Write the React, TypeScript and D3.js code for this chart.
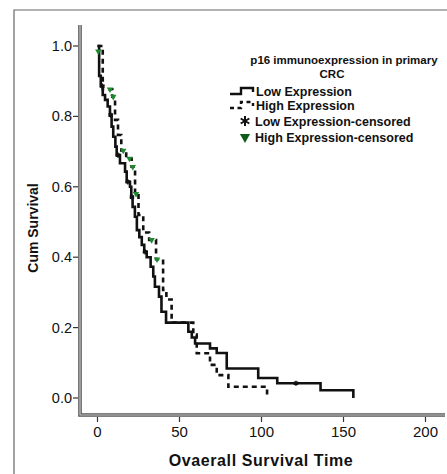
import React, { useEffect, useRef } from 'react'
import * as d3 from 'd3'

// Kaplan-Meier steps (time in months, cum survival)
const lowTimes = [0, 1, 2, 3.2, 4.6, 6.2, 7.6, 8.6, 9.6, 10.9, 11.7, 13.7, 16.8, 17.8, 19.8, 20.6, 21.4, 22.8, 24, 25.5, 27, 28.5, 30, 32.4, 34, 35, 37.5, 39, 41.8, 55.4, 57.5, 59.5, 68.6, 72.7, 78.8, 98, 109.6, 136, 156]
const lowSurv = [1.0, 0.915, 0.886, 0.861, 0.847, 0.828, 0.804, 0.771, 0.742, 0.714, 0.69, 0.667, 0.643, 0.614, 0.6, 0.571, 0.543, 0.515, 0.477, 0.457, 0.435, 0.415, 0.4, 0.373, 0.345, 0.316, 0.288, 0.245, 0.214, 0.188, 0.172, 0.155, 0.141, 0.128, 0.084, 0.057, 0.042, 0.022, 0.0]
const lowEnd = 156

const highTimes = [0, 3.2, 9, 10.7, 12.5, 14.5, 17.5, 20.8, 22.9, 25, 27.9, 31.5, 35.7, 40, 42, 45.2, 58.4, 60.5, 68.6, 72.7, 79.8, 103.4]
const highSurv = [1.0, 0.877, 0.856, 0.79, 0.747, 0.703, 0.68, 0.657, 0.58, 0.52, 0.47, 0.449, 0.394, 0.307, 0.28, 0.214, 0.18, 0.127, 0.094, 0.065, 0.032, 0.0]
const highEnd = 103.4

const lowCensT = [3, 8, 12.5, 18.5, 21, 29, 121]
const lowCensS = [0.886, 0.804, 0.69, 0.614, 0.571, 0.415, 0.042]
const highCensT = [0.5, 7.6, 9.6, 15.7, 19.5, 21.5, 23.5, 33, 36.3]
const highCensS = [0.985, 0.877, 0.856, 0.703, 0.68, 0.657, 0.58, 0.449, 0.394]

const xTicks = [0, 50, 100, 150, 200]
const yTicks = [0, 0.2, 0.4, 0.6, 0.8, 1.0]

const legendTitle = ['p16 immunoexpression in primary', 'CRC']
const legendItems = ['Low Expression', 'High Expression', 'Low Expression-censored', 'High Expression-censored']

const W = 447
const H = 474
const font = '"Liberation Sans", Arial, sans-serif'

const App = () => {
  const ref = useRef<SVGSVGElement>(null)

  useEffect(() => {
    const svg = d3.select(ref.current)
    svg.selectAll('*').remove()

    const x = d3.scaleLinear().domain([0, 200]).range([97.5, 425.5])
    const y = d3.scaleLinear().domain([0, 1]).range([398, 46])

    // frame
    svg.append('path').attr('d', `M14,${H}V10H${W}`).attr('fill', 'none').attr('stroke', '#666').attr('stroke-width', 1.2)

    // axes (double gray lines)
    const axisPath = `M80,25V415H445`
    svg.append('path').attr('d', axisPath).attr('fill', 'none').attr('stroke', '#555').attr('stroke-width', 3.6)
    svg.append('path').attr('d', axisPath).attr('fill', 'none').attr('stroke', '#ccc').attr('stroke-width', 1.2)

    const yAxis = svg.append('g')
    yAxis.selectAll('line').data(yTicks).join('line')
      .attr('x1', 73).attr('x2', 78).attr('y1', d => y(d)).attr('y2', d => y(d))
      .attr('stroke', '#333').attr('stroke-width', 1.2)
    yAxis.selectAll('text').data(yTicks).join('text')
      .attr('x', 72).attr('y', d => y(d) + 5).attr('text-anchor', 'end')
      .attr('font-family', font).attr('font-size', 14.5).attr('fill', '#111')
      .text(d => d3.format('.1f')(d))

    const xAxis = svg.append('g')
    xAxis.selectAll('line').data(xTicks).join('line')
      .attr('x1', d => x(d)).attr('x2', d => x(d)).attr('y1', 417).attr('y2', 422)
      .attr('stroke', '#333').attr('stroke-width', 1.2)
    xAxis.selectAll('text').data(xTicks).join('text')
      .attr('x', d => x(d)).attr('y', 437).attr('text-anchor', 'middle')
      .attr('font-family', font).attr('font-size', 15).attr('fill', '#111')
      .text(d => d)

    svg.append('text').attr('x', 261).attr('y', 466).attr('text-anchor', 'middle')
      .attr('font-family', font).attr('font-size', 16).attr('font-weight', 'bold')
      .attr('letter-spacing', 0.6).attr('fill', '#111')
      .text('Ovaerall Survival Time')

    svg.append('text').attr('transform', 'translate(38,228) rotate(-90)').attr('text-anchor', 'middle')
      .attr('font-family', font).attr('font-size', 14).attr('font-weight', 'bold').attr('fill', '#111')
      .text('Cum Survival')

    // curves
    const step = d3.line<[number, number]>().x(d => x(d[0])).y(d => y(d[1])).curve(d3.curveStepAfter)
    const lowPts: [number, number][] = lowTimes.map((t, i) => [t, lowSurv[i]])
    lowPts.push([lowEnd, lowSurv[lowSurv.length - 1]])
    const highPts: [number, number][] = highTimes.map((t, i) => [t, highSurv[i]])
    highPts.push([highEnd, highSurv[highSurv.length - 1]])

    svg.append('path').attr('d', step(highPts)).attr('fill', 'none').attr('stroke', '#111')
      .attr('stroke-width', 2.6).attr('stroke-dasharray', '5,4')
    svg.append('path').attr('d', step(lowPts)).attr('fill', 'none').attr('stroke', '#111')
      .attr('stroke-width', 2.6)

    const ast = d3.symbol().type(d3.symbolAsterisk).size(18)
    svg.append('g').selectAll('path').data(lowCensT).join('path')
      .attr('transform', (d, i) => `translate(${x(d)},${y(lowCensS[i])})`)
      .attr('d', ast()).attr('stroke', '#111').attr('stroke-width', 1.5).attr('fill', 'none')

    const tri = d3.symbol().type(d3.symbolTriangle).size(18)
    svg.append('g').selectAll('path').data(highCensT).join('path')
      .attr('transform', (d, i) => `translate(${x(d)},${y(highCensS[i])}) rotate(180)`)
      .attr('d', tri()).attr('fill', '#1e8a2e')

    // legend
    const lg = svg.append('g').attr('font-family', font).attr('font-weight', 'bold').attr('fill', '#111')
    lg.append('text').attr('x', 344).attr('y', 64).attr('text-anchor', 'middle').attr('font-size', 11.5).text(legendTitle[0])
    lg.append('text').attr('x', 332).attr('y', 78).attr('text-anchor', 'middle').attr('font-size', 11.5).text(legendTitle[1])

    const rowY = [91, 105, 121, 137]
    lg.selectAll('text.item').data(legendItems).join('text').attr('class', 'item')
      .attr('x', (d, i) => (i < 2 ? 256 : 255)).attr('y', (d, i) => rowY[i] + 4.5)
      .attr('font-size', 12.5).text(d => d)

    const legStep = (yy: number) => `M230,${yy + 3}H241V${yy - 3}H253V${yy + 1}`
    lg.append('path').attr('d', legStep(rowY[0])).attr('fill', 'none').attr('stroke', '#111').attr('stroke-width', 2.4)
    lg.append('path').attr('d', legStep(rowY[1])).attr('fill', 'none').attr('stroke', '#111').attr('stroke-width', 2.4)
      .attr('stroke-dasharray', '4,3.5')
    lg.append('path').attr('transform', `translate(245,${rowY[2]})`).attr('d', d3.symbol().type(d3.symbolAsterisk).size(70)())
      .attr('stroke', '#111').attr('stroke-width', 2).attr('fill', 'none')
    lg.append('path').attr('transform', `translate(245,${rowY[3]}) rotate(180)`).attr('d', d3.symbol().type(d3.symbolTriangle).size(45)())
      .attr('fill', '#0e5a1a')
  }, [])

  return (
    <svg ref={ref} width={W} height={H} style={{ position: 'absolute', left: 0, top: 0, background: '#fff' }} />
  )
}

export default App
